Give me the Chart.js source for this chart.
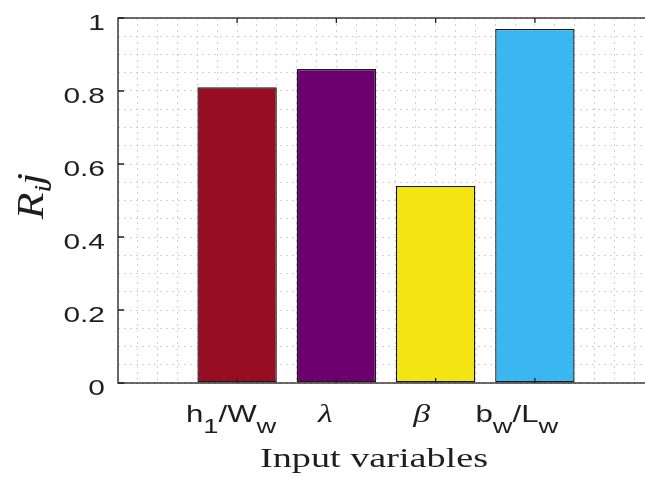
<!DOCTYPE html>
<html>
<head>
<meta charset="utf-8">
<script src="https://cdn.jsdelivr.net/npm/chart.js@4/dist/chart.umd.min.js"></script>
<style>
  html, body { margin: 0; padding: 0; overflow: hidden; background: #fff; }
</style>
</head>
<body>
<canvas id="chart" width="654" height="477"></canvas>
<script>
// R_ij per input variable ('_' marks a one-char subscript)
const categories  = ['h_1/W_w', '\u03bb', '\u03b2', 'b_w/L_w'];
const positions   = [1, 2, 3, 4];
const rValues     = [0.81, 0.86, 0.54, 0.97];
const barColors   = ['#970d21', '#6d006f', '#f2e513', '#3ab6f0'];
const yTicks      = [0, 0.2, 0.4, 0.6, 0.8, 1];
const yTickLabels = ['0', '0.2', '0.4', '0.6', '0.8', '1'];
const xTitle = 'Input variables';
const yTitle = 'R_ij';

const INK = '#1e1e1e';
const SX = 1.36;                 // the reference text is stretched sideways
const labelShift = [-6, -11, -14, -18];

function richParts(str) {
    const parts = [];
    for (let i = 0; i < str.length; i++) {
        if (str[i] === '_' && i + 1 < str.length) { parts.push({ t: str[i + 1], sub: true }); i++; }
        else parts.push({ t: str[i], sub: false });
    }
    return parts;
}

// centred text with subscripts, drawn around (0,0) of the current transform
function drawRich(ctx, str, font, subFont, subDy, sx) {
    const parts = richParts(str);
    let w = 0;
    parts.forEach(p => { ctx.font = p.sub ? subFont : font; p.w = ctx.measureText(p.t).width; w += p.w; });
    ctx.save();
    ctx.scale(sx, 1);
    ctx.textAlign = 'left';
    ctx.textBaseline = 'alphabetic';
    let cx = -w / 2;
    parts.forEach(p => {
        ctx.font = p.sub ? subFont : font;
        ctx.fillText(p.t, cx, p.sub ? subDy : 0);
        cx += p.w;
    });
    ctx.restore();
}

const axesPlugin = {
    id: 'axesPlugin',
    afterDraw(chart) {
        const { ctx, chartArea: a, scales: { x, y } } = chart;
        ctx.save();
        ctx.fillStyle = INK;
        ctx.strokeStyle = INK;

        // box
        ctx.lineWidth = 1.3;
        ctx.strokeRect(a.left, a.top, a.right - a.left, a.bottom - a.top);

        // inward ticks
        ctx.beginPath();
        yTicks.forEach(v => {
            const py = y.getPixelForValue(v);
            ctx.moveTo(a.left, py); ctx.lineTo(a.left + 6, py);
            ctx.moveTo(a.right, py); ctx.lineTo(a.right - 6, py);
        });
        positions.forEach(v => {
            const px = x.getPixelForValue(v);
            ctx.moveTo(px, a.bottom); ctx.lineTo(px, a.bottom - 5);
            ctx.moveTo(px, a.top); ctx.lineTo(px, a.top + 5);
        });
        ctx.stroke();

        // y tick labels
        ctx.font = '22px "Liberation Sans", Arial, sans-serif';
        ctx.textAlign = 'right';
        ctx.textBaseline = 'alphabetic';
        yTicks.forEach((v, i) => {
            ctx.save();
            ctx.translate(a.left - 13, y.getPixelForValue(v) + 12);
            ctx.scale(SX, 1);
            ctx.fillText(yTickLabels[i], 0, 0);
            ctx.restore();
        });

        // category labels
        categories.forEach((c, i) => {
            const greek = /[\u0370-\u03ff]/.test(c);
            ctx.save();
            ctx.translate(x.getPixelForValue(positions[i]) + labelShift[i], a.bottom + 39);
            if (greek) drawRich(ctx, c, 'italic 25px "Liberation Serif", serif', '', 0, SX);
            else drawRich(ctx, c, '24px "Liberation Sans", Arial, sans-serif',
                          '21px "Liberation Sans", Arial, sans-serif', 11, 1.3);
            ctx.restore();
        });

        // x title, fitted to the reference width
        ctx.font = '28px "Liberation Serif", serif';
        const tw = ctx.measureText(xTitle).width;
        ctx.save();
        ctx.translate(374, a.bottom + 84);
        drawRich(ctx, xTitle, ctx.font, ctx.font, 0, 228 / tw);
        ctx.restore();

        // y title, rotated
        ctx.save();
        ctx.translate(43, 196);
        ctx.rotate(-Math.PI / 2);
        drawRich(ctx, yTitle, 'italic 38px "Liberation Serif", serif',
                 'italic 24px "Liberation Serif", serif', 7, 1.15);
        ctx.restore();

        ctx.restore();
    }
};

const gridOpts = { color: '#d2d2d2', lineWidth: 1, drawTicks: false, offset: false };

new Chart(document.getElementById('chart'), {
    type: 'bar',
    data: {
        datasets: [{
            data: positions.map((p, i) => ({ x: p, y: rValues[i] })),
            backgroundColor: barColors,
            borderColor: '#1a1a1a',
            borderWidth: 1.4,
            borderSkipped: false,
            // the linear x scale sizes bars from its 0.2 minor step, so
            // 4 x 0.2 gives a bar 0.8 units wide
            barPercentage: 4,
            categoryPercentage: 1
        }]
    },
    options: {
        responsive: false,
        animation: false,
        layout: { padding: { top: 18, left: 0, right: 0, bottom: 0 } },
        plugins: { legend: { display: false }, tooltip: { enabled: false } },
        scales: {
            x: {
                type: 'linear',
                offset: false,
                min: -0.2, max: 5.2,
                ticks: { display: false, stepSize: 0.2 },
                grid: gridOpts,
                border: { display: false, dash: [2, 4] },
                afterFit: s => { s.height = 94; }
            },
            y: {
                min: 0, max: 1,
                ticks: { display: false, stepSize: 0.05 },
                grid: gridOpts,
                border: { display: false, dash: [2, 4] },
                afterFit: s => { s.width = 118; }
            }
        }
    },
    plugins: [axesPlugin]
});
</script>
</body>
</html>
